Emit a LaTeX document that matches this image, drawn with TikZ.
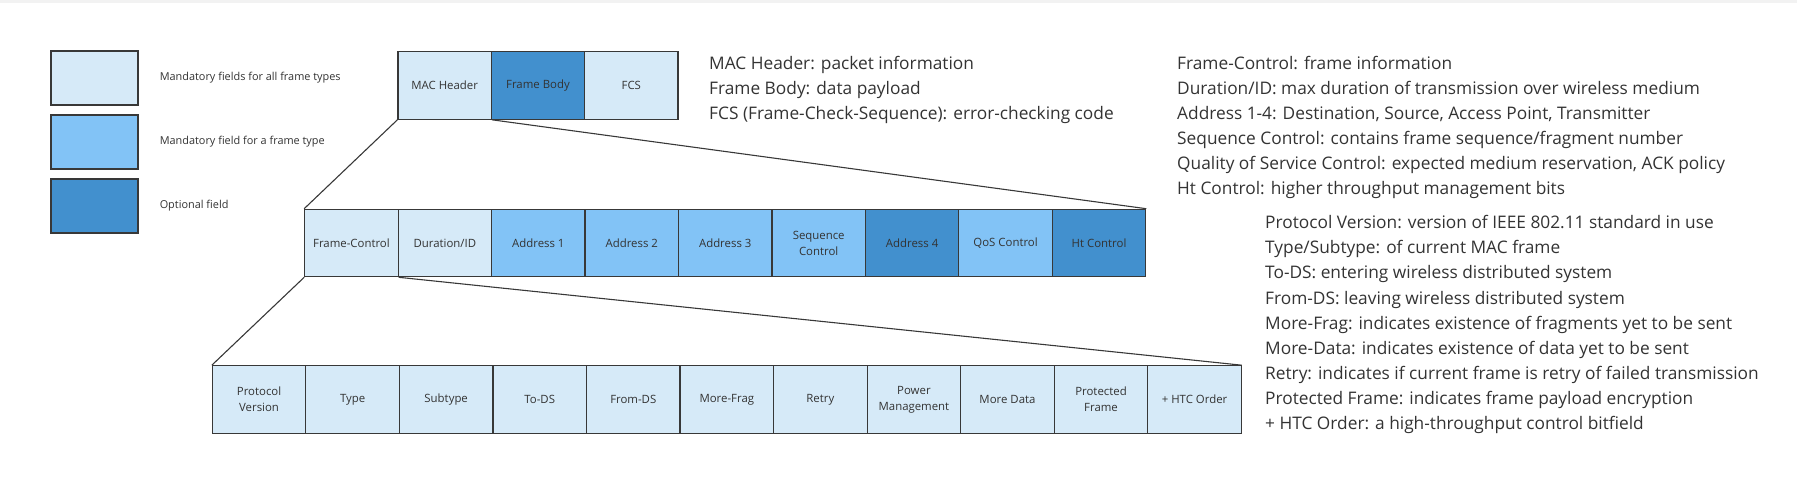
\documentclass[tikz,border=0pt]{standalone}
\usepackage{fontspec}
\setmainfont{Open Sans}
\usetikzlibrary{positioning}
\definecolor{fieldall}{HTML}{D6EAF8}
\definecolor{fieldtype}{HTML}{82C3F6}
\definecolor{fieldopt}{HTML}{4290CE}
\definecolor{edge}{HTML}{383838}
\definecolor{ink}{HTML}{333333}
\tikzset{
  field/.style={draw=edge, line width=1.1pt, inner sep=0pt, minimum width=93.4pt,
    minimum height=67.5pt, align=center, text=ink, font=\fontsize{11.4}{16}\selectfont},
  legendbox/.style={draw=edge, line width=1.1pt, inner sep=0pt, minimum width=87pt, minimum height=54pt},
  legendtext/.style={inner sep=0pt, text=ink, font=\fontsize{10.9}{13}\selectfont},
  desc/.style={anchor=base west, inner sep=0pt, text=ink, font=\fontsize{17.3}{21}\selectfont},
  link/.style={draw=edge, line width=1.1pt}
}
\begin{document}
\begin{tikzpicture}[x=1pt,y=-1pt]
    \useasboundingbox (0,0) rectangle (1797,481);
    \fill[gray!10] (0,0) rectangle (1797,3);

    \foreach \col/\txt [count=\i] in {fieldall/Mandatory fields for all frame types,
        fieldtype/Mandatory field for a frame type, fieldopt/Optional field}{
      \node[legendbox, fill=\col] (leg\i) at (94.5, {14+64*\i}) {};
      \node[legendtext, right=21pt of leg\i] (legtext\i) {\txt};
    }

    \foreach \lbl/\col [count=\i] in {MAC Header/fieldall, Frame Body/fieldopt, FCS/fieldall}
      \node[field, fill=\col] (top\i) at ({398+93.33*(\i-0.5)}, 85.5) {\lbl};

    \foreach \lbl/\col [count=\i] in {Frame-Control/fieldall, {Duration/ID}/fieldall,
        Address 1/fieldtype, Address 2/fieldtype, Address 3/fieldtype,
        {Sequence\\Control}/fieldtype, Address 4/fieldopt, QoS Control/fieldtype, Ht Control/fieldopt}
      \node[field, fill=\col] (mid\i) at ({304.7+93.45*(\i-0.5)}, 243) {\lbl};

    \foreach \lbl [count=\i] in {{Protocol\\Version}, Type, Subtype, To-DS, From-DS, More-Frag,
        Retry, {Power\\Management}, More Data, {Protected\\Frame}, + HTC Order}
      \node[field, fill=fieldall] (bot\i) at ({212.3+93.55*(\i-0.5)}, 399.5) {\lbl};

    \draw[link] (top1.south west) -- (mid1.north west);
    \draw[link] (top1.south east) -- (mid9.north east);
    \draw[link] (mid1.south west) -- (bot1.north west);
    \draw[link] (mid1.south east) -- (bot11.north east);

    \foreach \txt [count=\i from 0] in {MAC Header: packet information, Frame Body: data payload,
        {FCS (Frame-Check-Sequence): error-checking code}}
      \node[desc] (hdr\i) at (709, {70+25*\i}) {\txt};

    \foreach \txt [count=\i from 0] in {Frame-Control: frame information,
        Duration/ID: max duration of transmission over wireless medium,
        {Address 1-4: Destination, Source, Access Point, Transmitter},
        Sequence Control: contains frame sequence/fragment number,
        {Quality of Service Control: expected medium reservation, ACK policy},
        Ht Control: higher throughput management bits}
      \node[desc] (mac\i) at (1177, {70+25*\i}) {\txt};

    \foreach \txt [count=\i from 0] in {Protocol Version: version of IEEE 802.11 standard in use,
        Type/Subtype: of current MAC frame,
        To-DS: entering wireless distributed system,
        From-DS: leaving wireless distributed system,
        More-Frag: indicates existence of fragments yet to be sent,
        More-Data: indicates existence of data yet to be sent,
        Retry: indicates if current frame is retry of failed transmission,
        Protected Frame: indicates frame payload encryption,
        + HTC Order: a high-throughput control bitfield}
      \node[desc] (fc\i) at (1265, {229+25*\i}) {\txt};
\end{tikzpicture}
\end{document}
